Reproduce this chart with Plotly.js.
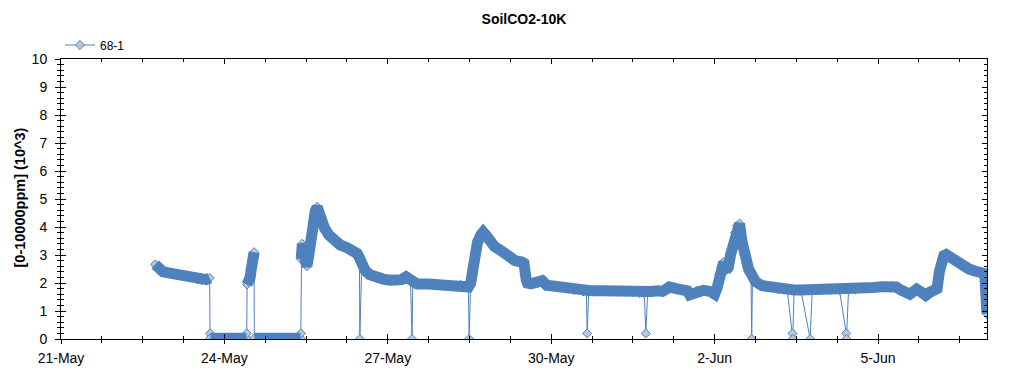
<!DOCTYPE html>
<html>
<head>
<meta charset="utf-8">
<script src="https://cdn.plot.ly/plotly-3.0.1.min.js"></script>
<style>html,body{margin:0;padding:0;background:#fff;}#chart{width:1024px;height:375px;}</style>
</head>
<body>
<div id="chart"></div>
<script>
// Regular readings of sensor 68-1 (x 10^3 ppm)
const times = [
'2014-05-22 17:30','2014-05-22 19:00','2014-05-22 21:00','2014-05-23 00:00','2014-05-23 03:00','2014-05-23 06:00','2014-05-23 09:00','2014-05-23 12:00','2014-05-23 14:00','2014-05-23 16:00','2014-05-23 17:30',
'2014-05-23 17:50','2014-05-24 00:00','2014-05-24 09:40',
'2014-05-24 10:00','2014-05-24 10:40','2014-05-24 11:20','2014-05-24 11:50','2014-05-24 12:20','2014-05-24 12:50','2014-05-24 13:05',
'2014-05-24 13:10','2014-05-25 00:00','2014-05-25 09:30',
'2014-05-25 09:50','2014-05-25 10:00','2014-05-25 10:20','2014-05-25 11:00','2014-05-25 11:40','2014-05-25 12:20','2014-05-25 13:00','2014-05-25 14:00','2014-05-25 15:00','2014-05-25 16:00','2014-05-25 16:50','2014-05-25 18:00','2014-05-25 20:00','2014-05-25 22:00',
'2014-05-26 00:00','2014-05-26 03:00','2014-05-26 06:00','2014-05-26 09:00','2014-05-26 10:30','2014-05-26 11:30','2014-05-26 12:30','2014-05-26 14:00','2014-05-26 16:00','2014-05-26 19:00','2014-05-26 22:00',
'2014-05-27 01:00','2014-05-27 04:00','2014-05-27 06:00','2014-05-27 08:00','2014-05-27 10:00','2014-05-27 11:00','2014-05-27 13:00','2014-05-27 18:00',
'2014-05-28 00:00','2014-05-28 06:00','2014-05-28 08:00','2014-05-28 10:00','2014-05-28 11:30','2014-05-28 12:30','2014-05-28 13:30','2014-05-28 14:30','2014-05-28 15:30','2014-05-28 17:00','2014-05-28 18:00','2014-05-28 19:30','2014-05-28 21:00','2014-05-28 23:00',
'2014-05-29 02:00','2014-05-29 05:00','2014-05-29 08:00','2014-05-29 11:00','2014-05-29 12:00','2014-05-29 13:00','2014-05-29 13:30','2014-05-29 15:00','2014-05-29 18:00','2014-05-29 20:00','2014-05-29 22:00',
'2014-05-30 02:00','2014-05-30 06:00','2014-05-30 08:00','2014-05-30 10:00','2014-05-30 14:00','2014-05-30 15:30','2014-05-30 16:30','2014-05-30 18:00','2014-05-30 22:00',
'2014-05-31 02:00','2014-05-31 06:00','2014-05-31 09:00','2014-05-31 12:00','2014-05-31 15:00','2014-05-31 17:00','2014-05-31 18:30','2014-05-31 20:00','2014-05-31 23:00',
'2014-06-01 01:00','2014-06-01 03:00','2014-06-01 04:00','2014-06-01 07:00','2014-06-01 10:00','2014-06-01 12:00','2014-06-01 13:00','2014-06-01 14:00','2014-06-01 16:00','2014-06-01 19:00','2014-06-01 22:00',
'2014-06-02 00:00','2014-06-02 01:00','2014-06-02 02:00','2014-06-02 03:00','2014-06-02 04:00','2014-06-02 05:00','2014-06-02 06:00','2014-06-02 07:00','2014-06-02 08:00','2014-06-02 09:00','2014-06-02 10:00','2014-06-02 11:00','2014-06-02 12:00','2014-06-02 13:00','2014-06-02 14:00','2014-06-02 15:00','2014-06-02 16:00','2014-06-02 16:40','2014-06-02 18:00','2014-06-02 21:00',
'2014-06-03 00:00','2014-06-03 04:00','2014-06-03 08:00','2014-06-03 11:00','2014-06-03 14:00','2014-06-03 19:00','2014-06-03 22:00',
'2014-06-04 03:00','2014-06-04 07:00','2014-06-04 11:00','2014-06-04 14:00','2014-06-04 18:00','2014-06-04 22:00',
'2014-06-05 02:00','2014-06-05 06:00','2014-06-05 08:00','2014-06-05 10:00','2014-06-05 12:00','2014-06-05 14:00','2014-06-05 16:00','2014-06-05 17:00','2014-06-05 19:00','2014-06-05 21:00','2014-06-05 23:00',
'2014-06-06 01:00','2014-06-06 02:00','2014-06-06 03:00','2014-06-06 04:00','2014-06-06 05:00','2014-06-06 06:00','2014-06-06 08:00','2014-06-06 10:00','2014-06-06 13:00','2014-06-06 16:00','2014-06-06 19:00','2014-06-06 22:00','2014-06-06 23:00','2014-06-06 23:30','2014-06-07 00:00'
];
const co2 = [
2.66,2.55,2.40,2.35,2.31,2.28,2.20,2.13,2.10,2.12,2.18,
0.03,0.03,0.03,
1.95,2.05,2.20,2.50,2.80,3.00,3.10,
0.03,0.03,0.03,
2.85,3.10,3.40,3.20,2.80,2.60,2.90,3.60,4.20,4.55,4.72,4.35,3.98,3.72,
3.55,3.36,3.26,3.15,3.05,2.90,2.70,2.45,2.30,2.18,2.14,
2.10,2.08,2.12,2.22,2.08,2.00,1.96,1.96,
1.94,1.92,1.94,1.90,1.86,2.00,2.50,3.10,3.45,3.72,3.82,3.68,3.45,3.30,
3.15,2.95,2.80,2.75,2.70,2.10,2.00,1.97,2.00,2.08,1.92,
1.87,1.87,1.82,1.75,1.70,1.68,1.68,1.72,1.72,
1.70,1.74,1.72,1.68,1.64,1.63,1.65,1.70,1.72,
1.70,1.80,1.86,1.80,1.76,1.72,1.58,1.62,1.72,1.74,1.70,
1.60,1.80,2.30,2.60,2.75,2.45,2.55,3.00,3.40,3.80,4.05,4.12,3.50,3.00,2.70,2.48,2.35,2.28,2.05,1.90,
1.85,1.78,1.76,1.75,1.75,1.75,1.76,
1.75,1.75,1.75,1.77,1.82,1.84,
1.87,1.89,1.86,1.75,1.65,1.60,1.72,1.78,1.68,1.56,1.68,
1.75,1.80,2.40,2.85,2.98,3.02,2.92,2.75,2.63,2.50,2.42,2.36,2.34,1.60,0.90
];
// Single-sample sensor dropouts
const dropTimes = ['2014-05-23 17:40','2014-05-24 09:50','2014-05-25 09:40','2014-05-26 11:40','2014-05-27 10:40','2014-05-28 11:50','2014-05-30 15:50','2014-05-31 17:40','2014-06-02 16:20','2014-06-03 10:20','2014-06-03 10:25','2014-06-03 18:05','2014-06-04 10:00','2014-06-04 10:05'];
const dropCo2 = [0.2,0.2,0.2,0.0,0.0,0.0,0.2,0.2,0.0,0.2,0.0,0.0,0.2,0.0];

const seriesName = '68-1';
const chartTitle = 'SoilCO2-10K';
const yTitle = '[0-10000ppm] (10^3)';
const xTickStart = '2014-05-21';
const xEnd = '2014-06-07';

// full series: regular readings merged with dropouts
const all = times.map((t,i)=>[t,co2[i]]).concat(dropTimes.map((t,i)=>[t,dropCo2[i]]));
all.sort((a,b)=> a[0] < b[0] ? -1 : a[0] > b[0] ? 1 : 0);

// dense band: regular readings, broken where the reading jumps
const bandX = [], bandY = [];
times.forEach((t,i)=>{
  if (i>0 && Math.abs(co2[i]-co2[i-1]) > 1.0) { bandX.push(t); bandY.push(null); }
  bandX.push(t); bandY.push(co2[i]);
});

const blue = '#4f81bd';
const DAY = 86400000;
const font = 'Liberation Sans, Arial, sans-serif';
const W = 1024, H = 375, ML = 61, MR = 37, MT = 59, MB = 36;
const plotW = W - ML - MR, plotH = H - MT - MB;

const traces = [
  {x: all.map(p=>p[0]), y: all.map(p=>p[1]), name: seriesName, type: 'scatter', mode: 'lines+markers',
   line: {color: blue, width: 1},
   marker: {symbol: 'diamond', size: 7, color: '#b8c9dc', line: {color: blue, width: 1}}},
  {x: bandX, y: bandY, type: 'scatter', mode: 'lines', showlegend: false, hoverinfo: 'skip',
   connectgaps: false, line: {color: blue, width: 11}},
  {x: [], y: [], xaxis: 'x2', yaxis: 'y2', showlegend: false, type: 'scatter'}
];

const layout = {
  width: W, height: H,
  margin: {l: ML, r: MR, t: MT, b: MB, pad: 0, autoexpand: false},
  paper_bgcolor: '#fff', plot_bgcolor: '#fff',
  font: {family: font, size: 14, color: '#000'},
  title: {text: '<b>' + chartTitle + '</b>', font: {family: font, size: 14, color: '#000'},
          x: 0.5, xref: 'paper', y: 1 - 19/H, yref: 'container', yanchor: 'middle'},
  showlegend: true,
  legend: {x: 60/W, xref: 'container', y: 1 - 45/H, yref: 'container', yanchor: 'middle', xanchor: 'left',
           font: {family: font, size: 12, color: '#000'}, bgcolor: 'rgba(0,0,0,0)'},
  annotations: [{text: '<b>' + yTitle + '</b>', textangle: -90, showarrow: false,
                 xref: 'paper', x: (19 - ML)/plotW, xanchor: 'center',
                 yref: 'paper', y: 1 - (197.5 - MT)/plotH, yanchor: 'middle',
                 font: {family: font, size: 14.5, color: '#000'}}],
  xaxis: {type: 'date', range: [xTickStart, xEnd], tick0: xTickStart, dtick: 3*DAY, tickformat: '%-d-%b', automargin: false,
          ticks: 'outside', ticklen: 4, tickwidth: 1, tickcolor: '#000', ticklabelstandoff: 2,
          showline: true, linecolor: '#000', linewidth: 1, showgrid: false, zeroline: false,
          tickfont: {family: font, size: 14, color: '#000'},
          minor: {tick0: xTickStart, dtick: 0.75*DAY, ticks: 'outside', ticklen: 3, tickcolor: '#000', showgrid: false}},
  xaxis2: {type: 'date', overlaying: 'x', side: 'bottom', range: [xTickStart, xEnd], tick0: xTickStart, dtick: 3*DAY, automargin: false,
          ticks: 'inside', ticklen: 5, tickcolor: '#000', showticklabels: false, showline: true, linecolor: '#000',
          mirror: 'ticks', showgrid: false, zeroline: false,
          minor: {tick0: xTickStart, dtick: 0.75*DAY, ticks: 'inside', ticklen: 3, tickcolor: '#000', showgrid: false}},
  yaxis: {range: [0, 10], dtick: 1, tick0: 0, ticks: 'outside', ticklen: 5, tickcolor: '#000', ticklabelstandoff: 5, automargin: false,
          showline: true, linecolor: '#000', linewidth: 1, showgrid: false, zeroline: false,
          tickfont: {family: font, size: 14, color: '#000'},
          minor: {dtick: 0.2, ticks: 'outside', ticklen: 3, tickcolor: '#000', showgrid: false}},
  yaxis2: {overlaying: 'y', side: 'left', range: [0, 10], dtick: 1, tick0: 0, ticks: 'inside', ticklen: 5, tickcolor: '#000', automargin: false,
          showticklabels: false, showline: true, linecolor: '#000', mirror: 'ticks', showgrid: false, zeroline: false,
          minor: {dtick: 0.2, ticks: 'inside', ticklen: 3, tickcolor: '#000', showgrid: false}}
};

Plotly.newPlot('chart', traces, layout, {displayModeBar: false, staticPlot: true});
</script>
</body>
</html>
